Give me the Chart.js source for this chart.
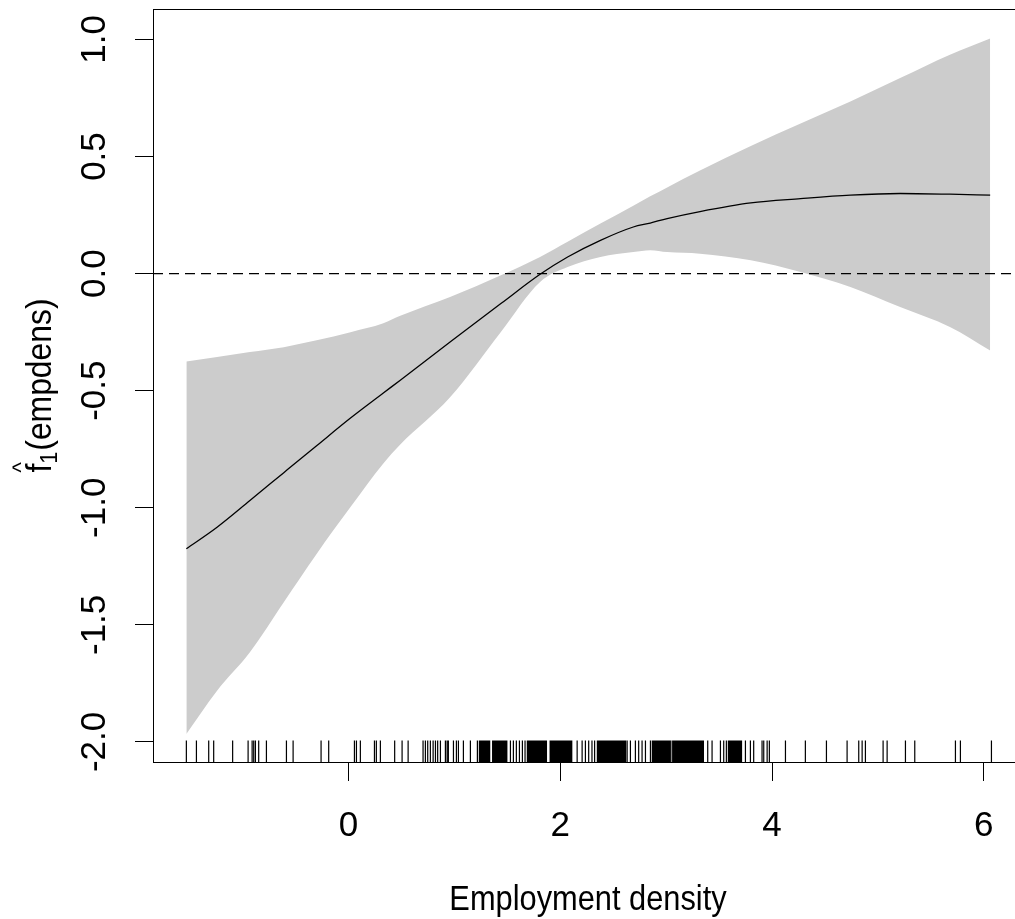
<!DOCTYPE html>
<html>
<head>
<meta charset="utf-8">
<script src="https://cdn.jsdelivr.net/npm/chart.js@4"></script>
<style>
  html, body { margin: 0; padding: 0; background: #fff; overflow: hidden; }
  #wrap { position: relative; width: 1023px; height: 919px; }
</style>
</head>
<body>
<div id="wrap"><canvas id="chart"></canvas></div>
<script>
// smooth term for employment density
const xGrid = [-1.53, -1.24, -0.93, -0.61, -0.30, 0.02, 0.33, 0.49, 0.96, 1.44, 1.81, 2.07, 2.38, 2.69, 2.85, 3.01, 3.32, 3.80, 4.27, 4.74, 5.21, 5.68, 6.06];
const fitVals = [-1.175, -1.083, -0.969, -0.850, -0.735, -0.617, -0.510, -0.455, -0.292, -0.128, -0.003, 0.071, 0.142, 0.199, 0.216, 0.235, 0.265, 0.302, 0.320, 0.335, 0.342, 0.339, 0.335];
const upperVals = [-0.375, -0.356, -0.335, -0.314, -0.285, -0.250, -0.212, -0.180, -0.100, -0.007, 0.071, 0.136, 0.214, 0.290, 0.330, 0.368, 0.440, 0.545, 0.641, 0.735, 0.835, 0.935, 1.004];
const lowerVals = [-1.966, -1.781, -1.617, -1.403, -1.197, -0.997, -0.811, -0.730, -0.528, -0.249, -0.036, 0.028, 0.071, 0.092, 0.100, 0.092, 0.085, 0.057, 0.007, -0.057, -0.143, -0.228, -0.328];

// rug of observed employment density values
const rugVals = [
  -1.530, -1.435, -1.319, -1.272, -1.093, -0.947, -0.909, -0.894, -0.878, -0.847, -0.774, -0.585, -0.522, -0.258, -0.186,
  0.057, 0.076, 0.113, 0.246, 0.264, 0.302, 0.437, 0.507, 0.564, 0.705, 0.727, 0.749, 0.774, 0.800, 0.822, 0.843, 0.869, 0.916, 0.932,
  0.944, 0.992, 1.020, 1.039, 1.086, 1.152, 1.218,
  1.237, 1.246, 1.257, 1.266, 1.276, 1.285, 1.296, 1.305, 1.315, 1.324, 1.334, 1.362, 1.372, 1.381, 1.391, 1.400, 1.411, 1.420, 1.430, 1.439, 1.449, 1.458, 1.468, 1.477, 1.487, 1.496,
  1.530, 1.558, 1.586, 1.615, 1.643, 1.668,
  1.690, 1.700, 1.709, 1.719, 1.728, 1.738, 1.747, 1.757, 1.766, 1.776, 1.785, 1.795, 1.804, 1.813, 1.823, 1.832, 1.842, 1.851, 1.861, 1.870,
  1.905, 1.914, 1.925, 1.934, 1.944, 1.953, 1.964, 1.973, 1.983, 1.992, 2.003, 2.012, 2.022, 2.031, 2.041, 2.051, 2.060, 2.070, 2.081, 2.090, 2.100, 2.109,
  2.160, 2.207, 2.238, 2.269, 2.300, 2.325,
  2.351, 2.360, 2.370, 2.379, 2.389, 2.398, 2.408, 2.417, 2.427, 2.436, 2.446, 2.455, 2.465, 2.474, 2.484, 2.493, 2.503, 2.512, 2.522, 2.531, 2.541, 2.550, 2.560, 2.569, 2.579, 2.588, 2.598, 2.607, 2.617,
  2.632, 2.663, 2.710, 2.741, 2.773, 2.805, 2.852,
  2.870, 2.879, 2.889, 2.898, 2.908, 2.917, 2.927, 2.936, 2.946, 2.955, 2.965, 2.974, 2.984, 2.993, 3.003, 3.012, 3.022, 3.031, 3.040,
  3.057,
  3.069, 3.078, 3.088, 3.097, 3.107, 3.116, 3.126, 3.135, 3.145, 3.154, 3.164, 3.173, 3.183, 3.192, 3.202, 3.211, 3.221, 3.230, 3.240, 3.249, 3.259, 3.268, 3.278, 3.287, 3.297, 3.306, 3.316, 3.325, 3.335, 3.344, 3.352,
  3.393, 3.434, 3.513, 3.544, 3.569,
  3.588, 3.598, 3.607, 3.617, 3.626, 3.636, 3.645, 3.655, 3.664, 3.674, 3.683, 3.693, 3.702, 3.712,
  3.749, 3.796, 3.827, 3.906, 3.922, 3.954, 3.975,
  4.127, 4.315, 4.514, 4.709, 4.819, 4.851, 4.882, 5.049, 5.087, 5.260, 5.348, 5.732, 5.779, 6.072
];

const xTicks = [0, 2, 4, 6];
const xTickLabels = ['0', '2', '4', '6'];
const yTicks = [-2, -1.5, -1, -0.5, 0, 0.5, 1];
const yTickLabels = ['-2.0', '-1.5', '-1.0', '-0.5', '0.0', '0.5', '1.0'];
const xLimits = [-1.845, 6.37];
const yLimits = [-2.09, 1.13];
const xTitle = 'Employment density';

const FONT = '"Liberation Sans", Arial, sans-serif';

function pts(vals) {
  return xGrid.map(function(x, i) { return { x: x, y: vals[i] }; });
}

// box around the plot region, like R's box()
const boxPlugin = {
  id: 'box',
  afterDatasetsDraw: function(chart) {
    const ctx = chart.ctx, a = chart.chartArea;
    ctx.save();
    ctx.strokeStyle = '#000';
    ctx.lineWidth = 1;
    ctx.strokeRect(a.left + 0.5, a.top + 0.5, a.right - a.left - 1, a.bottom - a.top - 1);
    ctx.restore();
  }
};

// rug marks along the bottom of the plot
const rugPlugin = {
  id: 'rug',
  afterDatasetsDraw: function(chart) {
    const ctx = chart.ctx, a = chart.chartArea, sx = chart.scales.x;
    const len = (a.bottom - a.top) * 0.03;
    ctx.save();
    ctx.strokeStyle = '#000';
    ctx.lineWidth = 1.2;
    ctx.beginPath();
    rugVals.forEach(function(v) {
      const px = sx.getPixelForValue(v);
      ctx.moveTo(px, a.bottom);
      ctx.lineTo(px, a.bottom - len);
    });
    ctx.stroke();
    ctx.restore();
  }
};

// axis titles; text is a bit condensed as in the original
const titlePlugin = {
  id: 'titles',
  afterDraw: function(chart) {
    const ctx = chart.ctx, a = chart.chartArea;
    const big = '35px ' + FONT, small = '24px ' + FONT;
    ctx.save();
    ctx.fillStyle = '#000';
    ctx.textBaseline = 'alphabetic';

    // x title
    ctx.save();
    ctx.translate((a.left + a.right) / 2, 910);
    ctx.scale(0.88, 1);
    ctx.font = big;
    ctx.textAlign = 'center';
    ctx.fillText(xTitle, 0, 0);
    ctx.restore();

    // y title: f-hat with subscript 1
    ctx.save();
    ctx.translate(51, (a.top + a.bottom) / 2);
    ctx.rotate(-Math.PI / 2);
    ctx.scale(0.91, 1);
    ctx.textAlign = 'left';
    ctx.font = big;
    const wf = ctx.measureText('f').width;
    const wr = ctx.measureText('(empdens)').width;
    ctx.font = small;
    const w1 = ctx.measureText('1').width;
    const x = -(wf + w1 + wr) / 2;
    ctx.font = big;
    ctx.fillText('f', x, 0);
    ctx.font = small;
    ctx.textAlign = 'center';
    ctx.fillText('^', x + wf / 2 + 1, -22);
    ctx.textAlign = 'left';
    ctx.fillText('1', x + wf, 6);
    ctx.font = big;
    ctx.fillText('(empdens)', x + wf + w1 + 1, 0);
    ctx.restore();

    ctx.restore();
  }
};

const ctx = document.getElementById('chart').getContext('2d');
new Chart(ctx, {
  type: 'line',
  data: {
    datasets: [
      {
        label: 'fit',
        data: pts(fitVals),
        borderColor: '#000',
        borderWidth: 1.3,
        pointRadius: 0,
        fill: false,
        cubicInterpolationMode: 'monotone'
      },
      {
        label: 'zero',
        data: [{ x: xLimits[0], y: 0 }, { x: xLimits[1], y: 0 }],
        borderColor: '#000',
        borderWidth: 1.3,
        borderDash: [10, 6],
        pointRadius: 0,
        fill: false
      },
      {
        label: 'upper',
        data: pts(upperVals),
        borderWidth: 0,
        borderColor: 'rgba(0,0,0,0)',
        backgroundColor: '#cccccc',
        pointRadius: 0,
        fill: '+1',
        cubicInterpolationMode: 'monotone'
      },
      {
        label: 'lower',
        data: pts(lowerVals),
        borderWidth: 0,
        borderColor: 'rgba(0,0,0,0)',
        pointRadius: 0,
        fill: false,
        cubicInterpolationMode: 'monotone'
      }
    ]
  },
  options: {
    responsive: true,
    maintainAspectRatio: false,
    animation: false,
    layout: { padding: { top: 9, left: 0, right: 0, bottom: 0 } },
    plugins: {
      legend: { display: false },
      tooltip: { enabled: false }
    },
    scales: {
      x: {
        type: 'linear',
        min: xLimits[0],
        max: xLimits[1],
        afterBuildTicks: function(s) { s.ticks = xTicks.map(function(v) { return { value: v }; }); },
        afterFit: function(s) { s.height = 156; s.paddingLeft = 0; s.paddingRight = 0; },
        ticks: {
          autoSkip: false,
          maxRotation: 0,
          color: '#000',
          padding: 24,
          font: { family: FONT, size: 35 },
          callback: function(v) { return xTickLabels[xTicks.indexOf(v)]; }
        },
        grid: { display: true, drawOnChartArea: false, drawTicks: true, tickLength: 18, tickColor: '#000', tickWidth: 1 },
        border: { display: false }
      },
      y: {
        type: 'linear',
        min: yLimits[0],
        max: yLimits[1],
        afterBuildTicks: function(s) { s.ticks = yTicks.map(function(v) { return { value: v }; }); },
        afterFit: function(s) { s.width = 153; s.paddingTop = 0; s.paddingBottom = 0; },
        ticks: {
          autoSkip: false,
          minRotation: 90,
          maxRotation: 90,
          crossAlign: 'center',
          color: '#000',
          padding: 10,
          font: { family: FONT, size: 35 },
          callback: function(v) { return yTickLabels[yTicks.indexOf(v)]; }
        },
        grid: { display: true, drawOnChartArea: false, drawTicks: true, tickLength: 18, tickColor: '#000', tickWidth: 1 },
        border: { display: false }
      }
    }
  },
  plugins: [boxPlugin, rugPlugin, titlePlugin]
});
</script>
</body>
</html>
